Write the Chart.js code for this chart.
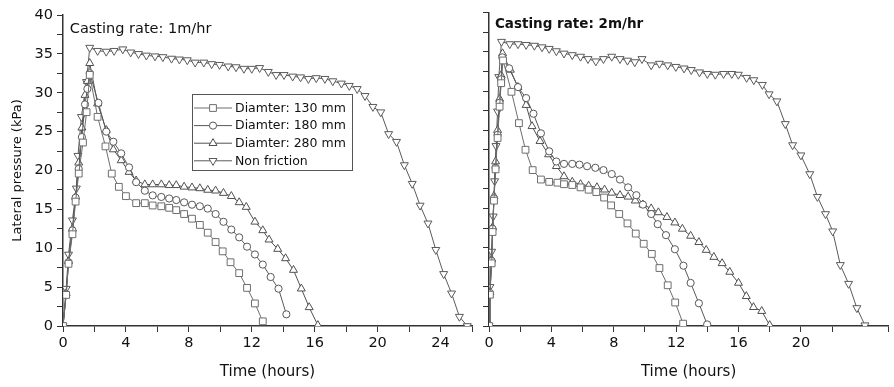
<!DOCTYPE html>
<html>
<head>
<meta charset="utf-8">
<script src="https://cdn.jsdelivr.net/npm/chart.js@4.4.1/dist/chart.umd.min.js"></script>
<style>
  html, body { margin: 0; padding: 0; background: #fff; }
  #wrap { position: relative; width: 894px; height: 387px; overflow: hidden; background: #fff; }
  .panel { position: absolute; top: 0; height: 387px; }
  #left { left: 0; width: 480px; }
  #right { left: 475px; width: 419px; }
</style>
</head>
<body>
<div id="wrap">
  <div class="panel" id="left"><canvas id="chartLeft"></canvas></div>
  <div class="panel" id="right"><canvas id="chartRight"></canvas></div>
</div>
<script>
/* -------------------------------------------------------
   DATA  (time in hours, lateral pressure in kPa)
------------------------------------------------------- */

const seriesNames = ["Diamter: 130 mm", "Diamter: 180 mm", "Diamter: 280 mm", "Non friction"];

// casting rate 1 m/hr
const t130a = [0,0.2,0.35,0.6,0.8,1.0,1.27,1.5,1.7,2.2,2.7,3.1,3.55,4.0,4.65,5.2,5.7,6.25,6.75,7.2,7.7,8.2,8.7,9.2,9.7,10.15,10.65,11.2,11.7,12.2,12.7];
const p130a = [0,4,8,11.8,16,19.6,23.6,27.5,32.3,26.9,23.1,19.6,17.9,16.7,15.8,15.8,15.5,15.4,15.2,14.9,14.4,13.8,13.0,12.0,10.8,9.6,8.2,6.8,4.9,2.9,0.6];

const t180a = [0,0.2,0.35,0.6,0.8,1.0,1.2,1.4,1.55,1.7,2.25,2.75,3.2,3.7,4.2,4.65,5.2,5.7,6.25,6.75,7.2,7.7,8.2,8.7,9.2,9.7,10.2,10.7,11.2,11.7,12.2,12.7,13.2,13.7,14.2];
const p180a = [0,4,8.2,12.3,16.5,20.2,24.3,28.5,30.5,32.5,28.7,25.0,23.7,22.2,20.4,18.5,17.4,16.8,16.6,16.4,16.2,15.9,15.6,15.4,15.1,14.4,13.4,12.4,11.4,10.2,9.2,7.9,6.3,4.8,1.5];

const t280a = [0,0.2,0.35,0.6,0.8,1.0,1.2,1.4,1.55,1.7,2.2,2.75,3.2,3.7,4.2,4.65,5.2,5.7,6.25,6.75,7.2,7.7,8.2,8.7,9.2,9.7,10.2,10.7,11.2,11.65,12.2,12.7,13.1,13.65,14.15,14.65,15.15,15.65,16.2];
const p280a = [0,4.2,8.3,12.5,16.6,21,25.5,29.7,31.5,33.8,28.6,25.2,22.7,21.3,19.8,18.7,18.2,18.2,18.2,18.1,18.1,17.9,17.8,17.7,17.5,17.4,17.1,16.7,15.9,15.3,13.4,12.3,11.1,9.9,8.7,7.2,4.8,2.4,0.1];

const tNFa = [0,0.2,0.35,0.6,0.85,0.95,1.17,1.49,1.7,2.2,2.75,3.25,3.8,4.3,4.8,5.3,5.85,6.35,6.9,7.4,7.9,8.4,8.95,9.45,9.95,10.5,11.0,11.5,12.0,12.5,13.05,13.55,14.05,14.6,15.1,15.6,16.1,16.65,17.15,17.7,18.2,18.7,19.2,19.7,20.2,20.7,21.2,21.7,22.2,22.7,23.2,23.7,24.2,24.7,25.2,25.7];
const pNFa = [0,4.8,9.2,13.6,17.7,21.9,26.9,31.4,35.8,35.4,35.3,35.4,35.6,35.2,35.0,34.8,34.7,34.6,34.4,34.3,34.2,33.9,33.9,33.7,33.6,33.4,33.3,33.1,33.1,33.2,32.7,32.3,32.3,32.1,32.0,31.8,31.9,31.8,31.5,31.2,30.9,30.5,29.6,28.2,27.5,24.7,23.7,20.7,18.3,15.5,13.2,9.8,6.7,4.2,1.2,0];

// casting rate 2 m/hr
const t130b = [0,0.06,0.17,0.23,0.32,0.42,0.55,0.68,0.78,0.9,1.44,1.92,2.34,2.8,3.33,3.86,4.39,4.81,5.34,5.87,6.39,6.88,7.38,7.83,8.35,8.88,9.41,9.92,10.44,10.93,11.46,11.94,12.45];
const p130b = [0,4,8,12,16,20,24,28,31,33.9,29.9,25.9,22.5,19.9,18.7,18.4,18.3,18.1,18.0,17.7,17.4,17.1,16.4,15.4,14.3,13.1,11.8,10.5,9.2,7.4,5.2,3.0,0.3];

const t180b = [0,0.06,0.17,0.23,0.32,0.42,0.55,0.68,0.78,0.85,1.29,1.86,2.38,2.85,3.33,3.86,4.32,4.81,5.34,5.8,6.29,6.82,7.34,7.87,8.4,8.92,9.45,9.87,10.4,10.82,11.35,11.92,12.47,12.93,13.46,13.99];
const p180b = [0,4.2,8.3,12.4,16.3,20.2,24.4,28.5,31.5,34.3,32.9,30.5,29.1,27.1,24.6,22.3,21.0,20.7,20.7,20.6,20.4,20.2,19.9,19.4,18.7,17.7,16.7,15.5,14.3,13.0,11.6,9.8,7.7,5.5,2.9,0.2];

const t280b = [0,0.06,0.17,0.23,0.32,0.42,0.55,0.68,0.78,0.87,1.37,1.86,2.38,2.76,3.27,3.82,4.32,4.81,5.34,5.87,6.39,6.92,7.41,7.87,8.4,8.92,9.38,9.87,10.4,10.86,11.41,11.92,12.4,12.93,13.46,13.93,14.42,14.95,15.44,16.0,16.5,16.96,17.49,18.0];
const p280b = [0,4.3,8.5,12.6,16.6,21,25,29,32,34.8,32.7,30.5,28.2,25.5,23.6,21.9,20.4,19.1,18.4,18.1,17.9,17.7,17.4,17.0,16.7,16.5,16.0,15.5,15.0,14.5,13.9,13.2,12.4,11.5,10.7,9.7,8.8,8.0,6.9,5.5,3.8,2.4,1.9,0.1];

const tNFb = [0,0.06,0.17,0.27,0.36,0.45,0.55,0.63,0.8,1.33,1.86,2.38,2.91,3.4,3.86,4.32,4.81,5.34,5.87,6.35,6.85,7.34,7.87,8.4,8.88,9.35,9.81,10.4,10.93,11.46,11.98,12.51,12.97,13.5,14.0,14.51,15.04,15.57,15.99,16.52,16.98,17.53,17.96,18.46,19.0,19.47,20.0,20.57,21.06,21.58,22.04,22.53,23.06,23.59,24.11];
const pNFb = [0,5,9.5,14,18.5,23,27.4,31.8,36.3,36.0,36.0,35.9,35.8,35.6,35.4,35.1,34.8,34.6,34.4,34.1,33.8,34.1,34.4,34.1,33.9,33.7,34.1,33.3,33.5,33.3,33.1,32.9,32.7,32.4,32.2,32.1,32.2,32.2,32.1,31.7,31.4,30.8,29.6,28.7,25.8,23.1,21.8,19.4,16.5,14.3,12.1,7.8,5.4,2.3,0.1];

const xTicksMajor = [0, 4, 8, 12, 16, 20, 24];
const yTicksMajor = [0, 5, 10, 15, 20, 25, 30, 35, 40];

/* -------------------------------------------------------
   STYLES
------------------------------------------------------- */

const FONT = "'DejaVu Sans', sans-serif";
const markers = [
  { pointStyle: "rect",     radius: 4.8, rotation: 0,   color: "#6e6e6e" },
  { pointStyle: "circle",   radius: 3.6, rotation: 0,   color: "#585858" },
  { pointStyle: "triangle", radius: 4.6, rotation: 0,   color: "#505050" },
  { pointStyle: "triangle", radius: 4.6, rotation: 180, color: "#5a5a5a" }
];

function makeDatasets(pairs) {
  return pairs.map(([t, p], i) => ({
    label: seriesNames[i],
    data: t.map((x, k) => ({ x: x, y: p[k] })),
    showLine: true,
    borderColor: markers[i].color,
    borderWidth: 1,
    pointStyle: markers[i].pointStyle,
    pointRadius: markers[i].radius,
    pointRotation: markers[i].rotation,
    pointBorderColor: markers[i].color,
    pointBackgroundColor: "#fff",
    pointBorderWidth: 1,
    tension: 0
  }));
}

/* -------------------------------------------------------
   PLUGINS: panel caption + line/marker legend
------------------------------------------------------- */

const caption = {
  id: "caption",
  afterDraw(chart, args, opts) {
    const { ctx, scales: { x, y } } = chart;
    ctx.save();
    ctx.font = opts.font;
    ctx.fillStyle = "#111";
    ctx.textBaseline = "middle";
    ctx.fillText(opts.text, x.getPixelForValue(opts.at[0]), y.getPixelForValue(opts.at[1]));
    ctx.restore();
  }
};

const lineLegend = {
  id: "lineLegend",
  afterDraw(chart, args, opts) {
    if (!opts.show) return;
    const { ctx, chartArea } = chart;
    const bx = chartArea.left + 129, by = chartArea.top + 79;
    const bw = 160, bh = 76, rowH = 17.6;
    ctx.save();
    ctx.fillStyle = "#fff";
    ctx.fillRect(bx, by, bw, bh);
    ctx.strokeStyle = "#555";
    ctx.lineWidth = 1;
    ctx.strokeRect(bx + 0.5, by + 0.5, bw, bh);
    ctx.font = "12.5px " + FONT;
    ctx.textBaseline = "middle";
    chart.data.datasets.forEach((ds, i) => {
      const yy = by + 14 + i * rowH;
      ctx.strokeStyle = ds.borderColor;
      ctx.beginPath();
      ctx.moveTo(bx + 2, yy);
      ctx.lineTo(bx + 40, yy);
      ctx.stroke();
      ctx.fillStyle = "#fff";
      ctx.strokeStyle = ds.pointBorderColor;
      Chart.helpers.drawPoint(ctx, {
        pointStyle: ds.pointStyle,
        radius: ds.pointRadius,
        rotation: ds.pointRotation,
        borderWidth: 1
      }, bx + 21, yy);
      ctx.fillStyle = "#111";
      ctx.fillText(ds.label, bx + 43, yy + 0.5);
    });
    ctx.restore();
  }
};

/* -------------------------------------------------------
   SHARED OPTIONS
------------------------------------------------------- */

function makeOptions(cfg) {
  return {
    responsive: true,
    maintainAspectRatio: false,
    animation: false,
    layout: { padding: { top: cfg.padTop, right: cfg.padRight, left: 0, bottom: 0 } },
    plugins: {
      legend: { display: false },
      tooltip: { enabled: false },
      caption: cfg.caption,
      lineLegend: { show: cfg.legend }
    },
    scales: {
      x: {
        type: "linear",
        min: 0,
        max: cfg.xMax,
        afterFit: s => { s.height = 61; },
        border: { color: "#333", width: 1.5 },
        grid: { drawOnChartArea: false, tickLength: 6, color: "#333" },
        ticks: {
          stepSize: 2,
          autoSkip: false,
          maxRotation: 0,
          padding: 3,
          color: "#111",
          font: { family: FONT, size: 14.5 },
          callback: v => xTicksMajor.includes(v) ? v : ""
        },
        title: {
          display: true,
          text: "Time (hours)",
          color: "#111",
          font: { family: FONT, size: 15 },
          padding: { top: 0, bottom: 6 }
        }
      },
      y: {
        min: 0,
        max: 40,
        afterFit: s => { s.width = cfg.yWidth; },
        border: { color: "#333", width: 1.5 },
        grid: { drawOnChartArea: false, tickLength: 6, color: "#333" },
        ticks: {
          stepSize: 2.5,
          autoSkip: false,
          padding: 4,
          color: "#111",
          font: { family: FONT, size: 14.5 },
          callback: v => cfg.yLabels && yTicksMajor.includes(v) ? v : ""
        },
        title: {
          display: cfg.yLabels,
          text: "Lateral pressure (kPa)",
          color: "#111",
          font: { family: FONT, size: 13 },
          padding: { top: 10, bottom: 0 }
        }
      }
    }
  };
}

/* -------------------------------------------------------
   CHARTS
------------------------------------------------------- */

new Chart(document.getElementById("chartLeft"), {
  type: "scatter",
  data: {
    datasets: makeDatasets([[t130a, p130a], [t180a, p180a], [t280a, p280a], [tNFa, pNFa]])
  },
  options: makeOptions({
    padTop: 15, padRight: 8, yWidth: 63, xMax: 26, yLabels: true, legend: true,
    caption: { text: "Casting rate: 1m/hr", at: [0.43, 38.2], font: "14.5px " + FONT }
  }),
  plugins: [caption, lineLegend]
});

new Chart(document.getElementById("chartRight"), {
  type: "scatter",
  data: {
    datasets: makeDatasets([[t130b, p130b], [t180b, p180b], [t280b, p280b], [tNFb, pNFb]])
  },
  options: makeOptions({
    padTop: 10.5, padRight: 0, yWidth: 14, xMax: 25.6, yLabels: false, legend: false,
    caption: { text: "Casting rate: 2m/hr", at: [0.38, 38.5], font: "bold 13.5px " + FONT }
  }),
  plugins: [caption, lineLegend]
});
</script>
</body>
</html>
